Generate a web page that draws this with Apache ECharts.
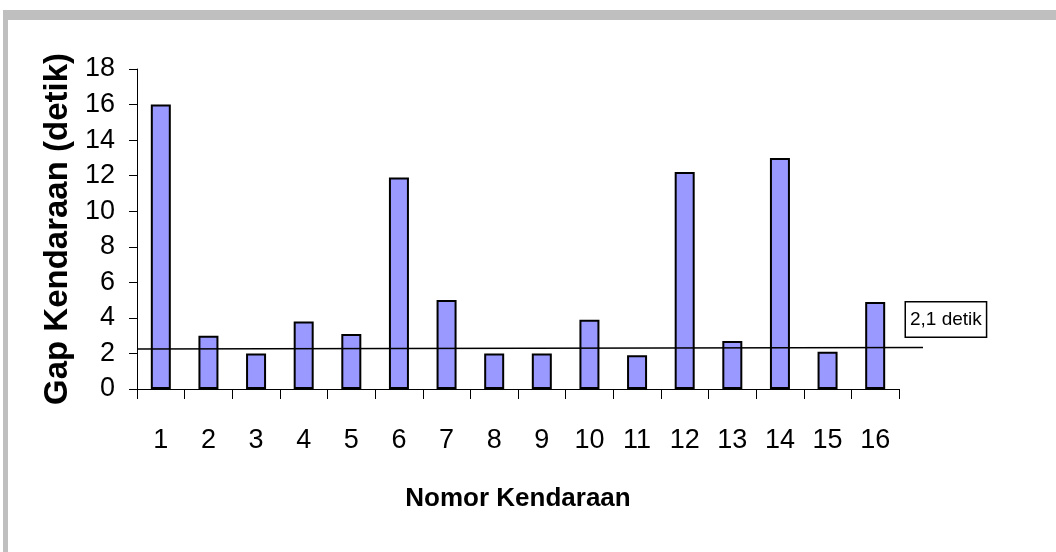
<!DOCTYPE html>
<html>
<head>
<meta charset="utf-8">
<script src="https://cdn.jsdelivr.net/npm/echarts@6/dist/echarts.min.js"></script>
<style>
html,body{margin:0;padding:0;background:#fff;}
#c{width:1056px;height:552px;}
</style>
</head>
<body>
<div id="c"></div>
<script>
const categories = ['1','2','3','4','5','6','7','8','9','10','11','12','13','14','15','16'];
const gapValues = [16.0, 3.0, 2.0, 3.8, 3.1, 11.9, 5.0, 2.0, 2.0, 3.9, 1.9, 12.2, 2.7, 13.0, 2.1, 4.9];
const refLineX = [0, 16.5];
const refLineY = [2.25, 2.33];
const refLabel = '2,1 detik';
const yTitle = 'Gap Kendaraan (detik)';
const xTitle = 'Nomor Kendaraan';

const SANS = "'Liberation Sans', Arial, sans-serif";

const chart = echarts.init(document.getElementById('c'), null, {renderer: 'canvas'});
chart.setOption({
  animation: false,
  backgroundColor: '#ffffff',
  graphic: [
    {type: 'rect', shape: {x: 3, y: 10, width: 1053, height: 10}, style: {fill: '#bfbfbf'}, silent: true},
    {type: 'rect', shape: {x: 3, y: 10, width: 5, height: 542}, style: {fill: '#bfbfbf'}, silent: true}
  ],
  grid: [
    {left: 137, right: 157, top: 69, bottom: 163, containLabel: false},
    {left: 137, right: 133, top: 69, bottom: 163, containLabel: false}
  ],
  xAxis: [
    {
      type: 'category',
      gridIndex: 0,
      data: categories,
      boundaryGap: true,
      axisLine: {lineStyle: {color: '#000', width: 1}},
      axisTick: {show: true, alignWithLabel: false, length: 10, lineStyle: {color: '#000'}},
      axisLabel: {fontFamily: SANS, fontSize: 27, color: '#000', margin: 38},
      splitLine: {show: false},
      name: xTitle,
      nameLocation: 'middle',
      nameGap: 97,
      nameTextStyle: {fontFamily: SANS, fontWeight: 'bold', fontSize: 26, color: '#000'}
    },
    {
      type: 'value', gridIndex: 1, min: 0, max: 16.5, show: false
    }
  ],
  yAxis: [
    {
      type: 'value',
      gridIndex: 0,
      min: 0, max: 18, interval: 2,
      axisLine: {show: true, lineStyle: {color: '#000', width: 1}},
      axisTick: {show: true, length: 8, lineStyle: {color: '#000'}},
      axisLabel: {fontFamily: SANS, fontSize: 27, color: '#000', margin: 22},
      splitLine: {show: false},
      name: yTitle,
      nameLocation: 'middle',
      nameGap: 57,
      nameRotate: 90,
      nameTextStyle: {fontFamily: SANS, fontWeight: 'bold', fontSize: 33, color: '#000'}
    },
    {
      type: 'value', gridIndex: 1, min: 0, max: 18, show: false
    }
  ],
  series: [
    {
      type: 'bar',
      xAxisIndex: 0,
      yAxisIndex: 0,
      data: gapValues,
      barWidth: '42%',
      itemStyle: {color: '#9999ff', borderColor: '#000', borderWidth: 2},
      z: 2
    },
    {
      type: 'line',
      xAxisIndex: 1,
      yAxisIndex: 1,
      symbol: 'none',
      silent: true,
      lineStyle: {color: '#000', width: 1.5},
      data: [
        [refLineX[0], refLineY[0]],
        [refLineX[1], refLineY[1]]
      ],
      endLabel: {
        show: true,
        distance: 5,
        offset: [-22, -28],
        formatter: refLabel,
        fontFamily: SANS,
        fontSize: 19,
        color: '#000',
        backgroundColor: '#fff',
        borderColor: '#000',
        borderWidth: 1.5,
        padding: [8, 4, 7, 4]
      },
      z: 3
    }
  ]
});
</script>
</body>
</html>
